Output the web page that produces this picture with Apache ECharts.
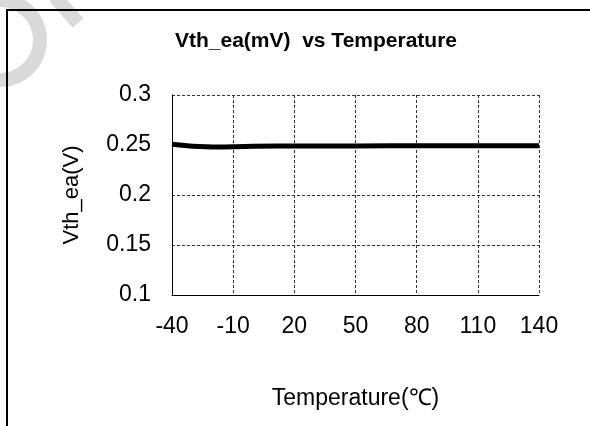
<!DOCTYPE html>
<html>
<head>
<meta charset="utf-8">
<script src="https://cdn.jsdelivr.net/npm/echarts@6/dist/echarts.min.js"></script>
<style>html,body{margin:0;padding:0;background:#fff}#c{width:590px;height:426px}</style>
</head>
<body>
<div id="c"></div>
<script>
var temperatures = [-40, -20, 0, 25, 50, 85, 125, 140];
var vthValues = [0.2507, 0.2481, 0.2487, 0.2490, 0.2491, 0.2492, 0.2492, 0.2492];
var titleText = 'Vth_ea(mV)  vs Temperature';
var xName = 'Temperature(℃)';
var yName = 'Vth_ea(V)';

var seriesData = temperatures.map(function (t, i) { return [t, vthValues[i]]; });
var font = '"Liberation Sans", Arial, sans-serif';

var chart = echarts.init(document.getElementById('c'));
chart.setOption({
  backgroundColor: '#fff',
  animation: false,
  title: {
    text: titleText,
    left: 311, top: 26, textAlign: 'center',
    textStyle: { fontFamily: font, fontSize: 21, fontWeight: 'bold', color: '#000' }
  },
  grid: { left: 172, top: 95, width: 367, height: 200, containLabel: false },
  xAxis: {
    type: 'value', min: -40, max: 140, interval: 30,
    name: xName, nameLocation: 'middle', nameGap: 92,
    nameTextStyle: { fontFamily: font, fontSize: 23, color: '#000' },
    axisLine: { show: true, onZero: false, lineStyle: { color: '#000', width: 1 } },
    axisTick: { show: false },
    axisLabel: { margin: 20, fontFamily: font, fontSize: 23, color: '#000' },
    splitLine: { show: true, lineStyle: { color: '#333', type: [3, 2], width: 1 } }
  },
  yAxis: {
    type: 'value', min: 0.1, max: 0.3, interval: 0.05,
    name: yName, nameLocation: 'middle', nameGap: 89,
    nameTextStyle: { fontFamily: font, fontSize: 22, color: '#000' },
    axisLine: { show: true, onZero: false, lineStyle: { color: '#000', width: 1 } },
    axisTick: { show: false },
    axisLabel: { margin: 21, fontFamily: font, fontSize: 23, color: '#000' },
    splitLine: { show: true, lineStyle: { color: '#333', type: [3, 2], width: 1 } }
  },
  series: [{
    type: 'line', data: seriesData, smooth: true, showSymbol: false,
    lineStyle: { color: '#000', width: 5 }, z: 5
  }],
  graphic: [
    { type: 'arc', z: -1, shape: { cx: 0, cy: 40, r: 40, startAngle: -Math.PI / 2, endAngle: Math.PI / 2 },
      style: { stroke: '#d9d9d9', lineWidth: 14, fill: null } },
    { type: 'line', z: -1, shape: { x1: 55, y1: -3, x2: 78, y2: 23 },
      style: { stroke: '#d9d9d9', lineWidth: 14 } },
    { type: 'rect', z: 10, shape: { x: 7, y: 10, width: 700, height: 600 },
      style: { stroke: '#000', lineWidth: 2, fill: null } }
  ]
});
</script>
</body>
</html>
